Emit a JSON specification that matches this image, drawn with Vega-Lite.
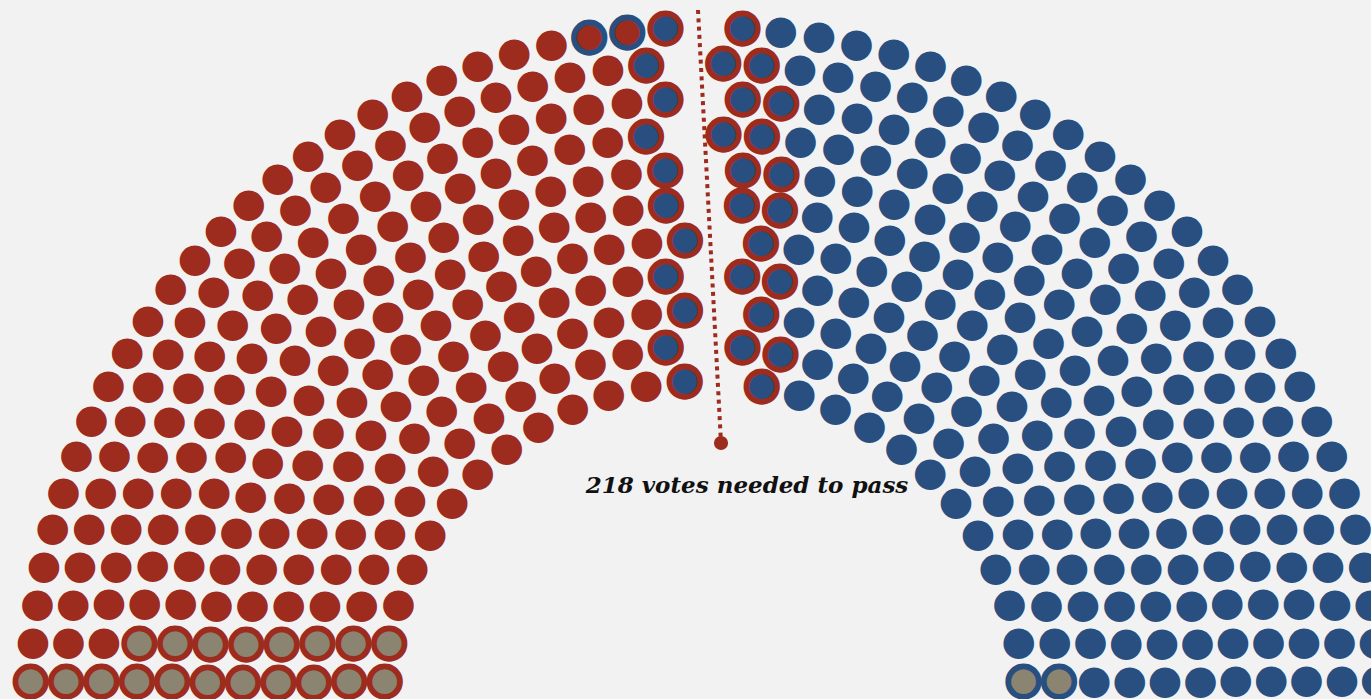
{"$schema":"https://vega.github.io/schema/vega-lite/v6.json","width":1334,"height":699,"autosize":"none","padding":{"left":37,"top":0,"right":0,"bottom":0},"background":"#f2f2f2","config":{"view":{"stroke":null}},
"layer":[
{"data":{"values":[
{"k":0,"i":0,"c":"g","n":1},{"k":0,"i":1,"c":"g","n":1},{"k":0,"i":2,"c":"R","n":1},{"k":0,"i":3,"c":"R","n":1},{"k":0,"i":4,"c":"R","n":1},{"k":0,"i":5,"c":"R","n":1},{"k":0,"i":6,"c":"R","n":1},{"k":0,"i":7,"c":"R","n":1},{"k":0,"i":8,"c":"R","n":1},{"k":0,"i":9,"c":"R","n":1},{"k":0,"i":10,"c":"R","n":1},{"k":0,"i":11,"c":"R","n":1},{"k":0,"i":12,"c":"br","n":1},{"k":0,"i":13,"c":"gap","n":1},{"k":0,"i":14,"c":"br","n":1},{"k":0,"i":15,"c":"D","n":1},{"k":0,"i":16,"c":"D","n":1},{"k":0,"i":17,"c":"D","n":1},{"k":0,"i":18,"c":"D","n":1},{"k":0,"i":19,"c":"D","n":1},{"k":0,"i":20,"c":"D","n":1},{"k":0,"i":21,"c":"D","n":1},{"k":0,"i":22,"c":"D","n":1},{"k":0,"i":23,"c":"D","n":1},{"k":0,"i":24,"c":"D","n":1},{"k":0,"i":25,"c":"h","n":1},
{"k":1,"i":0,"c":"g","n":1},{"k":1,"i":1,"c":"g","n":1},{"k":1,"i":2,"c":"R","n":1},{"k":1,"i":3,"c":"R","n":1},{"k":1,"i":4,"c":"R","n":1},{"k":1,"i":5,"c":"R","n":1},{"k":1,"i":6,"c":"R","n":1},{"k":1,"i":7,"c":"R","n":1},{"k":1,"i":8,"c":"R","n":1},{"k":1,"i":9,"c":"R","n":1},{"k":1,"i":10,"c":"R","n":1},{"k":1,"i":11,"c":"R","n":1},{"k":1,"i":12,"c":"R","n":1},{"k":1,"i":13,"c":"br","n":1},{"k":1,"i":14,"c":"gap","n":1},{"k":1,"i":15,"c":"br","n":1},{"k":1,"i":16,"c":"br","n":1},{"k":1,"i":17,"c":"D","n":1},{"k":1,"i":18,"c":"D","n":1},{"k":1,"i":19,"c":"D","n":1},{"k":1,"i":20,"c":"D","n":1},{"k":1,"i":21,"c":"D","n":1},{"k":1,"i":22,"c":"D","n":1},{"k":1,"i":23,"c":"D","n":1},{"k":1,"i":24,"c":"D","n":1},{"k":1,"i":25,"c":"D","n":1},{"k":1,"i":26,"c":"D","n":1},{"k":1,"i":27,"c":"D","n":1},{"k":1,"i":28,"c":"h","n":1},
{"k":2,"i":0,"c":"g","n":1},{"k":2,"i":1,"c":"g","n":1},{"k":2,"i":2,"c":"R","n":1},{"k":2,"i":3,"c":"R","n":1},{"k":2,"i":4,"c":"R","n":1},{"k":2,"i":5,"c":"R","n":1},{"k":2,"i":6,"c":"R","n":1},{"k":2,"i":7,"c":"R","n":1},{"k":2,"i":8,"c":"R","n":1},{"k":2,"i":9,"c":"R","n":1},{"k":2,"i":10,"c":"R","n":1},{"k":2,"i":11,"c":"R","n":1},{"k":2,"i":12,"c":"R","n":1},{"k":2,"i":13,"c":"R","n":1},{"k":2,"i":14,"c":"R","n":1},{"k":2,"i":15,"c":"br","n":1},{"k":2,"i":16,"c":"gap","n":1},{"k":2,"i":17,"c":"br","n":1},{"k":2,"i":18,"c":"D","n":1},{"k":2,"i":19,"c":"D","n":1},{"k":2,"i":20,"c":"D","n":1},{"k":2,"i":21,"c":"D","n":1},{"k":2,"i":22,"c":"D","n":1},{"k":2,"i":23,"c":"D","n":1},{"k":2,"i":24,"c":"D","n":1},{"k":2,"i":25,"c":"D","n":1},{"k":2,"i":26,"c":"D","n":1},{"k":2,"i":27,"c":"D","n":1},{"k":2,"i":28,"c":"D","n":1},{"k":2,"i":29,"c":"D","n":1},{"k":2,"i":30,"c":"D","n":1},{"k":2,"i":31,"c":"D","n":1},
{"k":3,"i":0,"c":"g","n":1},{"k":3,"i":1,"c":"g","n":1},{"k":3,"i":2,"c":"R","n":1},{"k":3,"i":3,"c":"R","n":1},{"k":3,"i":4,"c":"R","n":1},{"k":3,"i":5,"c":"R","n":1},{"k":3,"i":6,"c":"R","n":1},{"k":3,"i":7,"c":"R","n":1},{"k":3,"i":8,"c":"R","n":1},{"k":3,"i":9,"c":"R","n":1},{"k":3,"i":10,"c":"R","n":1},{"k":3,"i":11,"c":"R","n":1},{"k":3,"i":12,"c":"R","n":1},{"k":3,"i":13,"c":"R","n":1},{"k":3,"i":14,"c":"R","n":1},{"k":3,"i":15,"c":"R","n":1},{"k":3,"i":16,"c":"br","n":1},{"k":3,"i":17,"c":"gap","n":1},{"k":3,"i":18,"c":"br","n":1},{"k":3,"i":19,"c":"br","n":1},{"k":3,"i":20,"c":"D","n":1},{"k":3,"i":21,"c":"D","n":1},{"k":3,"i":22,"c":"D","n":1},{"k":3,"i":23,"c":"D","n":1},{"k":3,"i":24,"c":"D","n":1},{"k":3,"i":25,"c":"D","n":1},{"k":3,"i":26,"c":"D","n":1},{"k":3,"i":27,"c":"D","n":1},{"k":3,"i":28,"c":"D","n":1},{"k":3,"i":29,"c":"D","n":1},{"k":3,"i":30,"c":"D","n":1},{"k":3,"i":31,"c":"D","n":1},{"k":3,"i":32,"c":"D","n":1},{"k":3,"i":33,"c":"D","n":1},{"k":3,"i":34,"c":"D","n":1},
{"k":4,"i":0,"c":"g","n":1},{"k":4,"i":1,"c":"g","n":1},{"k":4,"i":2,"c":"R","n":1},{"k":4,"i":3,"c":"R","n":1},{"k":4,"i":4,"c":"R","n":1},{"k":4,"i":5,"c":"R","n":1},{"k":4,"i":6,"c":"R","n":1},{"k":4,"i":7,"c":"R","n":1},{"k":4,"i":8,"c":"R","n":1},{"k":4,"i":9,"c":"R","n":1},{"k":4,"i":10,"c":"R","n":1},{"k":4,"i":11,"c":"R","n":1},{"k":4,"i":12,"c":"R","n":1},{"k":4,"i":13,"c":"R","n":1},{"k":4,"i":14,"c":"R","n":1},{"k":4,"i":15,"c":"R","n":1},{"k":4,"i":16,"c":"R","n":1},{"k":4,"i":17,"c":"R","n":1},{"k":4,"i":18,"c":"br","n":1},{"k":4,"i":19,"c":"gap","n":1},{"k":4,"i":20,"c":"br","n":1},{"k":4,"i":21,"c":"D","n":1},{"k":4,"i":22,"c":"D","n":1},{"k":4,"i":23,"c":"D","n":1},{"k":4,"i":24,"c":"D","n":1},{"k":4,"i":25,"c":"D","n":1},{"k":4,"i":26,"c":"D","n":1},{"k":4,"i":27,"c":"D","n":1},{"k":4,"i":28,"c":"D","n":1},{"k":4,"i":29,"c":"D","n":1},{"k":4,"i":30,"c":"D","n":1},{"k":4,"i":31,"c":"D","n":1},{"k":4,"i":32,"c":"D","n":1},{"k":4,"i":33,"c":"D","n":1},{"k":4,"i":34,"c":"D","n":1},{"k":4,"i":35,"c":"D","n":1},{"k":4,"i":36,"c":"D","n":1},{"k":4,"i":37,"c":"D","n":1},
{"k":5,"i":0,"c":"g","n":1},{"k":5,"i":1,"c":"g","n":1},{"k":5,"i":2,"c":"R","n":1},{"k":5,"i":3,"c":"R","n":1},{"k":5,"i":4,"c":"R","n":1},{"k":5,"i":5,"c":"R","n":1},{"k":5,"i":6,"c":"R","n":1},{"k":5,"i":7,"c":"R","n":1},{"k":5,"i":8,"c":"R","n":1},{"k":5,"i":9,"c":"R","n":1},{"k":5,"i":10,"c":"R","n":1},{"k":5,"i":11,"c":"R","n":1},{"k":5,"i":12,"c":"R","n":1},{"k":5,"i":13,"c":"R","n":1},{"k":5,"i":14,"c":"R","n":1},{"k":5,"i":15,"c":"R","n":1},{"k":5,"i":16,"c":"R","n":1},{"k":5,"i":17,"c":"R","n":1},{"k":5,"i":18,"c":"R","n":1},{"k":5,"i":19,"c":"br","n":1},{"k":5,"i":20,"c":"gap","n":1},{"k":5,"i":21,"c":"br","n":1},{"k":5,"i":22,"c":"br","n":1},{"k":5,"i":23,"c":"D","n":1},{"k":5,"i":24,"c":"D","n":1},{"k":5,"i":25,"c":"D","n":1},{"k":5,"i":26,"c":"D","n":1},{"k":5,"i":27,"c":"D","n":1},{"k":5,"i":28,"c":"D","n":1},{"k":5,"i":29,"c":"D","n":1},{"k":5,"i":30,"c":"D","n":1},{"k":5,"i":31,"c":"D","n":1},{"k":5,"i":32,"c":"D","n":1},{"k":5,"i":33,"c":"D","n":1},{"k":5,"i":34,"c":"D","n":1},{"k":5,"i":35,"c":"D","n":1},{"k":5,"i":36,"c":"D","n":1},{"k":5,"i":37,"c":"D","n":1},{"k":5,"i":38,"c":"D","n":1},{"k":5,"i":39,"c":"D","n":1},{"k":5,"i":40,"c":"D","n":1},
{"k":6,"i":0,"c":"g","n":1},{"k":6,"i":1,"c":"g","n":1},{"k":6,"i":2,"c":"R","n":1},{"k":6,"i":3,"c":"R","n":1},{"k":6,"i":4,"c":"R","n":1},{"k":6,"i":5,"c":"R","n":1},{"k":6,"i":6,"c":"R","n":1},{"k":6,"i":7,"c":"R","n":1},{"k":6,"i":8,"c":"R","n":1},{"k":6,"i":9,"c":"R","n":1},{"k":6,"i":10,"c":"R","n":1},{"k":6,"i":11,"c":"R","n":1},{"k":6,"i":12,"c":"R","n":1},{"k":6,"i":13,"c":"R","n":1},{"k":6,"i":14,"c":"R","n":1},{"k":6,"i":15,"c":"R","n":1},{"k":6,"i":16,"c":"R","n":1},{"k":6,"i":17,"c":"R","n":1},{"k":6,"i":18,"c":"R","n":1},{"k":6,"i":19,"c":"R","n":1},{"k":6,"i":20,"c":"br","n":1},{"k":6,"i":21,"c":"gap","n":1},{"k":6,"i":22,"c":"br","n":1},{"k":6,"i":23,"c":"br","n":1},{"k":6,"i":24,"c":"D","n":1},{"k":6,"i":25,"c":"D","n":1},{"k":6,"i":26,"c":"D","n":1},{"k":6,"i":27,"c":"D","n":1},{"k":6,"i":28,"c":"D","n":1},{"k":6,"i":29,"c":"D","n":1},{"k":6,"i":30,"c":"D","n":1},{"k":6,"i":31,"c":"D","n":1},{"k":6,"i":32,"c":"D","n":1},{"k":6,"i":33,"c":"D","n":1},{"k":6,"i":34,"c":"D","n":1},{"k":6,"i":35,"c":"D","n":1},{"k":6,"i":36,"c":"D","n":1},{"k":6,"i":37,"c":"D","n":1},{"k":6,"i":38,"c":"D","n":1},{"k":6,"i":39,"c":"D","n":1},{"k":6,"i":40,"c":"D","n":1},{"k":6,"i":41,"c":"D","n":1},{"k":6,"i":42,"c":"D","n":1},
{"k":7,"i":0,"c":"g","n":1},{"k":7,"i":1,"c":"g","n":1},{"k":7,"i":2,"c":"R","n":1},{"k":7,"i":3,"c":"R","n":1},{"k":7,"i":4,"c":"R","n":1},{"k":7,"i":5,"c":"R","n":1},{"k":7,"i":6,"c":"R","n":1},{"k":7,"i":7,"c":"R","n":1},{"k":7,"i":8,"c":"R","n":1},{"k":7,"i":9,"c":"R","n":1},{"k":7,"i":10,"c":"R","n":1},{"k":7,"i":11,"c":"R","n":1},{"k":7,"i":12,"c":"R","n":1},{"k":7,"i":13,"c":"R","n":1},{"k":7,"i":14,"c":"R","n":1},{"k":7,"i":15,"c":"R","n":1},{"k":7,"i":16,"c":"R","n":1},{"k":7,"i":17,"c":"R","n":1},{"k":7,"i":18,"c":"R","n":1},{"k":7,"i":19,"c":"R","n":1},{"k":7,"i":20,"c":"R","n":1},{"k":7,"i":21,"c":"br","n":1},{"k":7,"i":22,"c":"gap","n":1},{"k":7,"i":23,"c":"br","n":1},{"k":7,"i":24,"c":"br","n":1},{"k":7,"i":25,"c":"D","n":1},{"k":7,"i":26,"c":"D","n":1},{"k":7,"i":27,"c":"D","n":1},{"k":7,"i":28,"c":"D","n":1},{"k":7,"i":29,"c":"D","n":1},{"k":7,"i":30,"c":"D","n":1},{"k":7,"i":31,"c":"D","n":1},{"k":7,"i":32,"c":"D","n":1},{"k":7,"i":33,"c":"D","n":1},{"k":7,"i":34,"c":"D","n":1},{"k":7,"i":35,"c":"D","n":1},{"k":7,"i":36,"c":"D","n":1},{"k":7,"i":37,"c":"D","n":1},{"k":7,"i":38,"c":"D","n":1},{"k":7,"i":39,"c":"D","n":1},{"k":7,"i":40,"c":"D","n":1},{"k":7,"i":41,"c":"D","n":1},{"k":7,"i":42,"c":"D","n":1},{"k":7,"i":43,"c":"D","n":1},{"k":7,"i":44,"c":"D","n":1},{"k":7,"i":45,"c":"D","n":1},
{"k":8,"i":0,"c":"g","n":1},{"k":8,"i":1,"c":"R","n":1},{"k":8,"i":2,"c":"R","n":1},{"k":8,"i":3,"c":"R","n":1},{"k":8,"i":4,"c":"R","n":1},{"k":8,"i":5,"c":"R","n":1},{"k":8,"i":6,"c":"R","n":1},{"k":8,"i":7,"c":"R","n":1},{"k":8,"i":8,"c":"R","n":1},{"k":8,"i":9,"c":"R","n":1},{"k":8,"i":10,"c":"R","n":1},{"k":8,"i":11,"c":"R","n":1},{"k":8,"i":12,"c":"R","n":1},{"k":8,"i":13,"c":"R","n":1},{"k":8,"i":14,"c":"R","n":1},{"k":8,"i":15,"c":"R","n":1},{"k":8,"i":16,"c":"R","n":1},{"k":8,"i":17,"c":"R","n":1},{"k":8,"i":18,"c":"R","n":1},{"k":8,"i":19,"c":"R","n":1},{"k":8,"i":20,"c":"R","n":1},{"k":8,"i":21,"c":"R","n":1},{"k":8,"i":22,"c":"R","n":1},{"k":8,"i":23,"c":"br","n":1},{"k":8,"i":24,"c":"gap","n":1},{"k":8,"i":25,"c":"br","n":1},{"k":8,"i":26,"c":"br","n":1},{"k":8,"i":27,"c":"D","n":1},{"k":8,"i":28,"c":"D","n":1},{"k":8,"i":29,"c":"D","n":1},{"k":8,"i":30,"c":"D","n":1},{"k":8,"i":31,"c":"D","n":1},{"k":8,"i":32,"c":"D","n":1},{"k":8,"i":33,"c":"D","n":1},{"k":8,"i":34,"c":"D","n":1},{"k":8,"i":35,"c":"D","n":1},{"k":8,"i":36,"c":"D","n":1},{"k":8,"i":37,"c":"D","n":1},{"k":8,"i":38,"c":"D","n":1},{"k":8,"i":39,"c":"D","n":1},{"k":8,"i":40,"c":"D","n":1},{"k":8,"i":41,"c":"D","n":1},{"k":8,"i":42,"c":"D","n":1},{"k":8,"i":43,"c":"D","n":1},{"k":8,"i":44,"c":"D","n":1},{"k":8,"i":45,"c":"D","n":1},{"k":8,"i":46,"c":"D","n":1},{"k":8,"i":47,"c":"D","n":1},{"k":8,"i":48,"c":"D","n":1},
{"k":9,"i":0,"c":"g","n":1},{"k":9,"i":1,"c":"R","n":1},{"k":9,"i":2,"c":"R","n":1},{"k":9,"i":3,"c":"R","n":1},{"k":9,"i":4,"c":"R","n":1},{"k":9,"i":5,"c":"R","n":1},{"k":9,"i":6,"c":"R","n":1},{"k":9,"i":7,"c":"R","n":1},{"k":9,"i":8,"c":"R","n":1},{"k":9,"i":9,"c":"R","n":1},{"k":9,"i":10,"c":"R","n":1},{"k":9,"i":11,"c":"R","n":1},{"k":9,"i":12,"c":"R","n":1},{"k":9,"i":13,"c":"R","n":1},{"k":9,"i":14,"c":"R","n":1},{"k":9,"i":15,"c":"R","n":1},{"k":9,"i":16,"c":"R","n":1},{"k":9,"i":17,"c":"R","n":1},{"k":9,"i":18,"c":"R","n":1},{"k":9,"i":19,"c":"R","n":1},{"k":9,"i":20,"c":"R","n":1},{"k":9,"i":21,"c":"R","n":1},{"k":9,"i":22,"c":"R","n":1},{"k":9,"i":23,"c":"R","n":1},{"k":9,"i":24,"c":"br","n":1},{"k":9,"i":25,"c":"gap","n":1},{"k":9,"i":26,"c":"br","n":1},{"k":9,"i":27,"c":"br","n":1},{"k":9,"i":28,"c":"D","n":1},{"k":9,"i":29,"c":"D","n":1},{"k":9,"i":30,"c":"D","n":1},{"k":9,"i":31,"c":"D","n":1},{"k":9,"i":32,"c":"D","n":1},{"k":9,"i":33,"c":"D","n":1},{"k":9,"i":34,"c":"D","n":1},{"k":9,"i":35,"c":"D","n":1},{"k":9,"i":36,"c":"D","n":1},{"k":9,"i":37,"c":"D","n":1},{"k":9,"i":38,"c":"D","n":1},{"k":9,"i":39,"c":"D","n":1},{"k":9,"i":40,"c":"D","n":1},{"k":9,"i":41,"c":"D","n":1},{"k":9,"i":42,"c":"D","n":1},{"k":9,"i":43,"c":"D","n":1},{"k":9,"i":44,"c":"D","n":1},{"k":9,"i":45,"c":"D","n":1},{"k":9,"i":46,"c":"D","n":1},{"k":9,"i":47,"c":"D","n":1},{"k":9,"i":48,"c":"D","n":1},{"k":9,"i":49,"c":"D","n":1},{"k":9,"i":50,"c":"D","n":1},{"k":9,"i":51,"c":"D","n":1},
{"k":10,"i":0,"c":"g","n":1},{"k":10,"i":1,"c":"R","n":1},{"k":10,"i":2,"c":"R","n":1},{"k":10,"i":3,"c":"R","n":1},{"k":10,"i":4,"c":"R","n":1},{"k":10,"i":5,"c":"R","n":1},{"k":10,"i":6,"c":"R","n":1},{"k":10,"i":7,"c":"R","n":1},{"k":10,"i":8,"c":"R","n":1},{"k":10,"i":9,"c":"R","n":1},{"k":10,"i":10,"c":"R","n":1},{"k":10,"i":11,"c":"R","n":1},{"k":10,"i":12,"c":"R","n":1},{"k":10,"i":13,"c":"R","n":1},{"k":10,"i":14,"c":"R","n":1},{"k":10,"i":15,"c":"R","n":1},{"k":10,"i":16,"c":"R","n":1},{"k":10,"i":17,"c":"R","n":1},{"k":10,"i":18,"c":"R","n":1},{"k":10,"i":19,"c":"R","n":1},{"k":10,"i":20,"c":"R","n":1},{"k":10,"i":21,"c":"R","n":1},{"k":10,"i":22,"c":"R","n":1},{"k":10,"i":23,"c":"R","n":1},{"k":10,"i":24,"c":"rb","n":1},{"k":10,"i":25,"c":"rb","n":1},{"k":10,"i":26,"c":"br","n":1},{"k":10,"i":27,"c":"gap","n":1},{"k":10,"i":28,"c":"br","n":1},{"k":10,"i":29,"c":"D","n":1},{"k":10,"i":30,"c":"D","n":1},{"k":10,"i":31,"c":"D","n":1},{"k":10,"i":32,"c":"D","n":1},{"k":10,"i":33,"c":"D","n":1},{"k":10,"i":34,"c":"D","n":1},{"k":10,"i":35,"c":"D","n":1},{"k":10,"i":36,"c":"D","n":1},{"k":10,"i":37,"c":"D","n":1},{"k":10,"i":38,"c":"D","n":1},{"k":10,"i":39,"c":"D","n":1},{"k":10,"i":40,"c":"D","n":1},{"k":10,"i":41,"c":"D","n":1},{"k":10,"i":42,"c":"D","n":1},{"k":10,"i":43,"c":"D","n":1},{"k":10,"i":44,"c":"D","n":1},{"k":10,"i":45,"c":"D","n":1},{"k":10,"i":46,"c":"D","n":1},{"k":10,"i":47,"c":"D","n":1},{"k":10,"i":48,"c":"D","n":1},{"k":10,"i":49,"c":"D","n":1},{"k":10,"i":50,"c":"D","n":1},{"k":10,"i":51,"c":"D","n":1},{"k":10,"i":52,"c":"D","n":1},{"k":10,"i":53,"c":"D","n":1},{"k":10,"i":54,"c":"D","n":1}
]},
"mark":{"type":"text","text":"●","font":"DejaVu Sans","fontSize":40,"baseline":"middle","align":"center","y":"height","dy":0.7,"strokeWidth":5.7},
"encoding":{
"theta":{"field":"n","type":"quantitative","stack":"normalize","scale":{"type":"linear","domain":[0,1],"range":[-1.5708,1.5708]}},
"radius":{"field":"k","type":"quantitative","scale":{"type":"linear","domain":[0,10],"range":[320,673.5],"zero":false}},
"order":{"field":"i","type":"quantitative"},
"fill":{"field":"c","type":"nominal","scale":{"domain":["R","D","g","h","br","rb","gap"],"range":["#9d2b1e","#294f80","#8b8470","#8b8470","#294f80","#9d2b1e","rgba(0,0,0,0)"]},"legend":null},
"stroke":{"field":"c","type":"nominal","scale":{"domain":["R","D","g","h","br","rb","gap"],"range":["rgba(0,0,0,0)","rgba(0,0,0,0)","#9d2b1e","#294f80","#9d2b1e","#294f80","rgba(0,0,0,0)"]},"legend":null}
}},
{"data":{"values":[{"x1":-0.009,"y1":0.9857,"x2":0.0255,"y2":0.3662}]},
"mark":{"type":"rule","color":"#9d2b1e","strokeWidth":4,"strokeDash":[4,4.3]},
"encoding":{"x":{"field":"x1","type":"quantitative","scale":{"domain":[-1,1],"nice":false,"zero":false},"axis":null},"y":{"field":"y1","type":"quantitative","scale":{"domain":[0,1],"nice":false,"zero":false},"axis":null},"x2":{"field":"x2"},"y2":{"field":"y2"}}},
{"data":{"values":[{"x":0.0255,"y":0.3662}]},
"mark":{"type":"point","filled":true,"size":200,"color":"#9d2b1e","opacity":1},
"encoding":{"x":{"field":"x","type":"quantitative","scale":{"domain":[-1,1],"nice":false,"zero":false},"axis":null},"y":{"field":"y","type":"quantitative","scale":{"domain":[0,1],"nice":false,"zero":false},"axis":null}}},
{"data":{"values":[{"x":0.0645,"y":0.2947,"label":"218 votes needed to pass"}]},
"mark":{"type":"text","font":"DejaVu Serif","fontStyle":"italic","fontWeight":"bold","fontSize":23,"align":"center","baseline":"alphabetic","color":"#111111"},
"encoding":{"x":{"field":"x","type":"quantitative","scale":{"domain":[-1,1],"nice":false,"zero":false},"axis":null},"y":{"field":"y","type":"quantitative","scale":{"domain":[0,1],"nice":false,"zero":false},"axis":null},"text":{"field":"label"}}}
]}
